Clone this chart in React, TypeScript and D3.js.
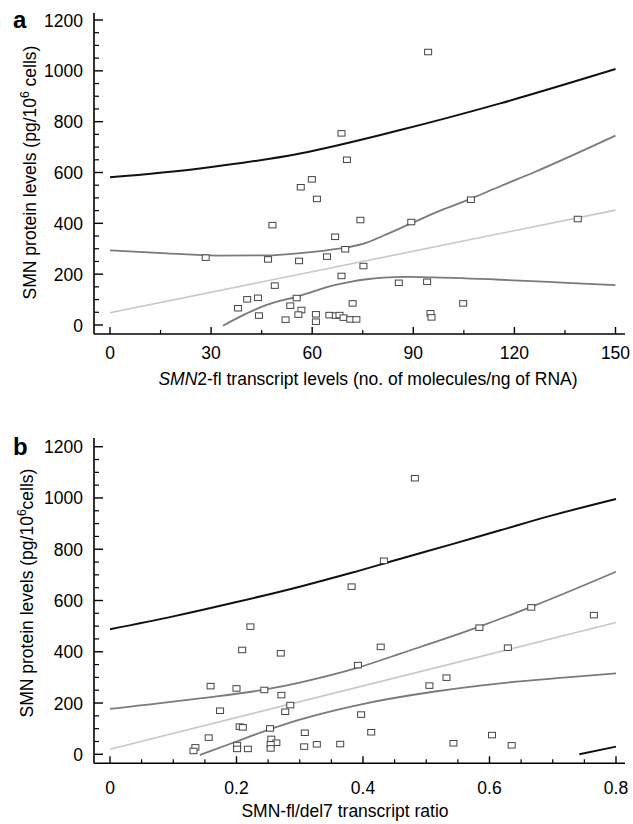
import * as d3 from "d3";

const font = "'Liberation Sans', Arial, Helvetica, sans-serif";

// ---- panel a: SMN2-fl transcript levels vs SMN protein ----
const aXTicks = [0, 30, 60, 90, 120, 150];
const aXMinor = [15, 45, 75, 105, 135];
const yTicks = [0, 200, 400, 600, 800, 1000, 1200];
const yMinor = [50, 100, 150, 250, 300, 350, 450, 500, 550, 650, 700, 750, 850, 900, 950, 1050, 1100, 1150];

const aPoints: [number, number][] = [
  [28.4, 265], [48.2, 393], [46.9, 258], [56.1, 252], [48.9, 155], [38.0, 66],
  [40.7, 101], [43.9, 107], [44.2, 37], [52.1, 21], [53.5, 76], [55.4, 106],
  [56.8, 59], [55.9, 41], [56.6, 542], [59.9, 573], [61.4, 496], [61.1, 42],
  [61.1, 13], [74.3, 413], [66.8, 347], [69.8, 298], [64.4, 269], [75.2, 232],
  [68.7, 193], [89.4, 405], [107.1, 493], [138.8, 417], [85.7, 166], [94.1, 170],
  [72.0, 85], [104.8, 85], [95.1, 46], [95.4, 30], [65.1, 39], [67.0, 37],
  [68.1, 39], [69.3, 29], [71.3, 22], [73.1, 22], [94.4, 1074], [68.7, 754],
  [70.3, 650],
];
const aPredUpper: [number, number][] = [
  [0, 581], [26.7, 616], [56.4, 675], [86.1, 767], [115.8, 872], [150, 1007],
];
const aConfUpper: [number, number][] = [
  [0, 294], [16.8, 282], [31.7, 273], [46.5, 274], [56.4, 283], [62.4, 291],
  [69.8, 304], [76.2, 324], [81.2, 352], [89.4, 400], [98, 450], [107.1, 497],
  [115.8, 546], [125.7, 600], [150, 745],
];
const aFit: [number, number][] = [[0, 48], [150, 452]];
const aConfLower: [number, number][] = [
  [33.5, -3], [38.6, 33], [46.5, 79], [56.4, 115], [66.3, 156], [71.3, 170],
  [76.2, 180], [81.2, 186], [88, 189], [96, 187], [115.8, 178], [135.6, 166], [150, 157],
];

// ---- panel b: SMN-fl/del7 ratio vs SMN protein ----
const bXTicks = [0, 0.2, 0.4, 0.6, 0.8];
const bXLabels = ["0", "0.2", "0.4", "0.6", "0.8"];
const bXMinor = [0.05, 0.1, 0.15, 0.25, 0.3, 0.35, 0.45, 0.5, 0.55, 0.65, 0.7, 0.75];

const bPoints: [number, number][] = [
  [0.222, 498], [0.209, 407], [0.270, 394], [0.159, 266], [0.200, 257], [0.244, 251],
  [0.271, 231], [0.285, 192], [0.174, 170], [0.277, 166], [0.205, 108], [0.210, 105],
  [0.253, 101], [0.156, 65], [0.255, 60], [0.263, 45], [0.254, 39], [0.254, 23],
  [0.201, 36], [0.201, 21], [0.218, 21], [0.135, 27], [0.132, 13], [0.308, 84],
  [0.307, 30], [0.327, 39], [0.364, 40], [0.397, 155], [0.413, 86], [0.392, 348],
  [0.428, 419], [0.505, 268], [0.532, 299], [0.543, 43], [0.584, 494], [0.629, 416],
  [0.604, 75], [0.635, 35], [0.666, 573], [0.765, 543], [0.482, 1077], [0.433, 755],
  [0.382, 654],
];
const bPredUpper: [number, number][] = [
  [0, 488], [0.1, 538], [0.2, 594], [0.3, 654], [0.382, 708], [0.458, 762],
  [0.537, 817], [0.617, 874], [0.696, 930], [0.8, 996],
];
const bConfUpper: [number, number][] = [
  [0, 177], [0.142, 218], [0.248, 254], [0.3, 280], [0.392, 338], [0.458, 392],
  [0.584, 498], [0.669, 578], [0.8, 712],
];
const bFit: [number, number][] = [[0, 20], [0.8, 514]];
const bConfLower: [number, number][] = [
  [0.142, -3], [0.2, 50], [0.25, 95], [0.3, 135], [0.332, 157], [0.405, 199],
  [0.511, 244], [0.617, 277], [0.722, 300], [0.8, 316],
];
const bPredLower: [number, number][] = [[0.742, 0], [0.8, 30]];

function Panel({ letter, xDomain, xRange, yRange, axisY, yTop, xTicks, xLabels, xMinor,
  points, predUpper, confUpper, fit, confLower, predLower, tickBase, labelBase, labelX,
  yLabelX, yLabelY, xLabel, space }: any) {
  const x = d3.scaleLinear().domain(xDomain).range(xRange);
  const y = d3.scaleLinear().domain([0, 1200]).range(yRange);
  const line = d3.line<[number, number]>()
    .x(d => x(d[0]))
    .y(d => y(d[1]))
    .curve(d3.curveMonotoneX);
  const axisX = 94;
  return (
    <g fontFamily={font}>
      <text x={13} y={yRange[1] + 8} fontSize={24} fontWeight="bold">{letter}</text>
      {/* y axis */}
      <line x1={axisX} x2={axisX} y1={yTop} y2={axisY} stroke="#000" strokeWidth={1.6} />
      {yTicks.map(t => (
        <g key={"y" + t}>
          <line x1={axisX} x2={axisX + 9} y1={y(t)} y2={y(t)} stroke="#000" strokeWidth={1.4} />
          <text x={83} y={y(t) + 6.5} fontSize={17.5} textAnchor="end">{t}</text>
        </g>
      ))}
      {yMinor.map(t => (
        <line key={"ym" + t} x1={axisX} x2={axisX + 5} y1={y(t)} y2={y(t)} stroke="#000" strokeWidth={1.2} />
      ))}
      {/* x axis */}
      <line x1={axisX} x2={625} y1={axisY} y2={axisY} stroke="#000" strokeWidth={1.6} />
      {xTicks.map((t: number, i: number) => (
        <g key={"x" + t}>
          <line x1={x(t)} x2={x(t)} y1={axisY} y2={axisY - 7} stroke="#000" strokeWidth={1.4} />
          <text x={x(t)} y={tickBase} fontSize={17.5} textAnchor="middle">{xLabels[i]}</text>
        </g>
      ))}
      {xMinor.map((t: number) => (
        <line key={"xm" + t} x1={x(t)} x2={x(t)} y1={axisY} y2={axisY - 4} stroke="#000" strokeWidth={1.2} />
      ))}
      {/* axis titles */}
      <text x={labelX} y={labelBase} fontSize={17.5} textAnchor="middle">{xLabel}</text>
      <text transform={`translate(${yLabelX},${yLabelY}) rotate(-90)`} fontSize={17.5} textAnchor="middle">
        SMN protein levels (pg/10<tspan dy={-7} fontSize={12}>6</tspan>
        <tspan dy={7}>{space ? " " : ""}cells)</tspan>
      </text>
      {/* curves */}
      <path d={line(predUpper) || ""} fill="none" stroke="#111" strokeWidth={2} />
      {predLower && <path d={line(predLower) || ""} fill="none" stroke="#111" strokeWidth={2} />}
      <path d={line(confUpper) || ""} fill="none" stroke="#7a7a7a" strokeWidth={1.8} />
      <path d={line(confLower) || ""} fill="none" stroke="#7a7a7a" strokeWidth={1.8} />
      <path d={line(fit) || ""} fill="none" stroke="#c8c8c8" strokeWidth={1.6} />
      {/* points */}
      {points.map((p: [number, number], i: number) => (
        <rect key={i} x={x(p[0]) - 3.5} y={y(p[1]) - 2.75} width={7} height={5.5}
          fill="#fff" stroke="#444" strokeWidth={1} />
      ))}
    </g>
  );
}

export default function App() {
  return (
    <svg width={633} height={824} style={{ position: "absolute", left: 0, top: 0, background: "#fff" }}>
      <rect width={633} height={824} fill="#fff" />
      <Panel letter="a" xDomain={[0, 150]} xRange={[110, 615.5]} yRange={[325, 20]} axisY={334} yTop={13}
        xTicks={aXTicks} xLabels={aXTicks.map(String)} xMinor={aXMinor}
        points={aPoints} predUpper={aPredUpper} confUpper={aConfUpper} fit={aFit} confLower={aConfLower}
        tickBase={359} labelBase={385} labelX={368} yLabelX={36} yLabelY={172.5} space={true}
        xLabel={<><tspan fontStyle="italic">SMN</tspan>2-fl transcript levels (no. of molecules/ng of RNA)</>} />
      <Panel letter="b" xDomain={[0, 0.8]} xRange={[110, 616]} yRange={[754.3, 446.7]} axisY={763.3} yTop={438}
        xTicks={bXTicks} xLabels={bXLabels} xMinor={bXMinor}
        points={bPoints} predUpper={bPredUpper} confUpper={bConfUpper} fit={bFit} confLower={bConfLower}
        predLower={bPredLower}
        tickBase={794} labelBase={817} labelX={345} yLabelX={33} yLabelY={593} space={false}
        xLabel="SMN-fl/del7 transcript ratio" />
    </svg>
  );
}
